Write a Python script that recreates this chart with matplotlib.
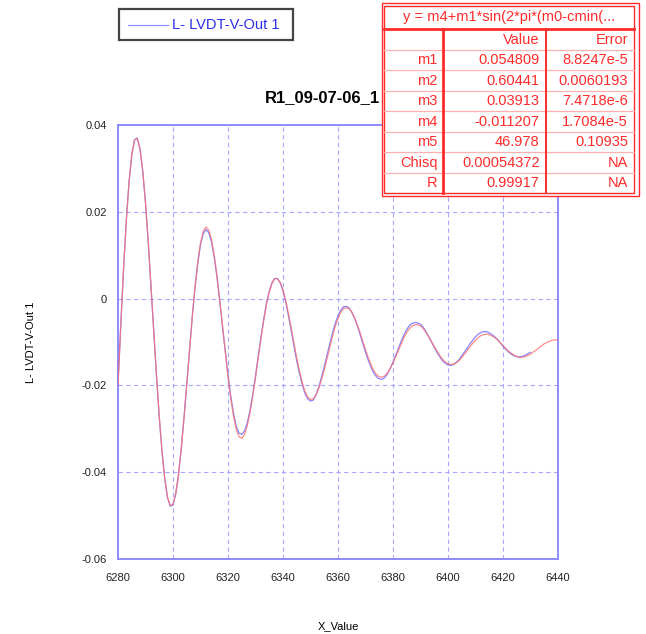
import numpy as np
import matplotlib
matplotlib.use("Agg")
from matplotlib import pyplot as plt
from matplotlib.patches import Rectangle
from matplotlib.lines import Line2D

plt.rcParams['font.family'] = ['Liberation Sans', 'DejaVu Sans']

# fitted curve (red), one value per x unit
x_fit = np.arange(6280, 6441, 1)
y_fit = [-0.0200, -0.0063, 0.0065, 0.0177, 0.0267, 0.0330, 0.0365, 0.0369,
         0.0344, 0.0294, 0.0221, 0.0131, 0.0030, -0.0074, -0.0177, -0.0271,
         -0.0351, -0.0414, -0.0457, -0.0476, -0.0474, -0.0449, -0.0406, -0.0346,
         -0.0276, -0.0198, -0.0119, -0.0043, 0.0026, 0.0084, 0.0128, 0.0155,
         0.0165, 0.0158, 0.0136, 0.0099, 0.0052, -0.0004, -0.0063, -0.0123,
         -0.0180, -0.0230, -0.0270, -0.0301, -0.0318, -0.0322, -0.0313, -0.0293,
         -0.0263, -0.0225, -0.0182, -0.0136, -0.0092, -0.0050, -0.0013, 0.0015,
         0.0035, 0.0046, 0.0046, 0.0037, 0.0020, -0.0005, -0.0035, -0.0068,
         -0.0103, -0.0137, -0.0167, -0.0193, -0.0214, -0.0227, -0.0232, -0.0231,
         -0.0222, -0.0207, -0.0187, -0.0164, -0.0138, -0.0112, -0.0087, -0.0064,
         -0.0046, -0.0032, -0.0023, -0.0021, -0.0023, -0.0031, -0.0044, -0.0060,
         -0.0078, -0.0098, -0.0118, -0.0136, -0.0152, -0.0166, -0.0175, -0.0180,
         -0.0181, -0.0178, -0.0171, -0.0161, -0.0148, -0.0134, -0.0119, -0.0104,
         -0.0090, -0.0078, -0.0069, -0.0063, -0.0060, -0.0060, -0.0063, -0.0069,
         -0.0078, -0.0088, -0.0099, -0.0110, -0.0121, -0.0131, -0.0140, -0.0146,
         -0.0150, -0.0152, -0.0151, -0.0148, -0.0143, -0.0136, -0.0128, -0.0120,
         -0.0111, -0.0103, -0.0096, -0.0090, -0.0085, -0.0083, -0.0082, -0.0083,
         -0.0086, -0.0090, -0.0095, -0.0102, -0.0108, -0.0115, -0.0121, -0.0126,
         -0.0130, -0.0133, -0.0135, -0.0135, -0.0134, -0.0131, -0.0128, -0.0123,
         -0.0119, -0.0114, -0.0109, -0.0104, -0.0101, -0.0098, -0.0096, -0.0095,
         -0.0095]

# measured data (blue)
x_data = np.arange(6280, 6431, 1)
y_data = [-0.0199, -0.0062, 0.0066, 0.0178, 0.0268, 0.0331, 0.0366, 0.0370,
          0.0345, 0.0294, 0.0220, 0.0130, 0.0028, -0.0076, -0.0179, -0.0273,
          -0.0353, -0.0416, -0.0459, -0.0478, -0.0476, -0.0450, -0.0406, -0.0345,
          -0.0274, -0.0196, -0.0117, -0.0042, 0.0025, 0.0081, 0.0124, 0.0150,
          0.0159, 0.0152, 0.0130, 0.0095, 0.0049, -0.0006, -0.0064, -0.0121,
          -0.0176, -0.0225, -0.0264, -0.0294, -0.0310, -0.0313, -0.0305, -0.0286,
          -0.0258, -0.0221, -0.0178, -0.0132, -0.0088, -0.0047, -0.0010, 0.0017,
          0.0037, 0.0047, 0.0046, 0.0036, 0.0018, -0.0008, -0.0040, -0.0074,
          -0.0110, -0.0144, -0.0173, -0.0198, -0.0219, -0.0231, -0.0236, -0.0234,
          -0.0222, -0.0204, -0.0181, -0.0157, -0.0130, -0.0104, -0.0079, -0.0057,
          -0.0039, -0.0027, -0.0019, -0.0018, -0.0021, -0.0031, -0.0045, -0.0062,
          -0.0082, -0.0103, -0.0123, -0.0142, -0.0158, -0.0172, -0.0180, -0.0185,
          -0.0186, -0.0182, -0.0173, -0.0161, -0.0146, -0.0130, -0.0114, -0.0098,
          -0.0083, -0.0071, -0.0062, -0.0057, -0.0055, -0.0056, -0.0059, -0.0066,
          -0.0076, -0.0088, -0.0100, -0.0112, -0.0124, -0.0134, -0.0143, -0.0149,
          -0.0153, -0.0154, -0.0152, -0.0147, -0.0141, -0.0132, -0.0123, -0.0114,
          -0.0104, -0.0096, -0.0088, -0.0082, -0.0078, -0.0076, -0.0076, -0.0079,
          -0.0083, -0.0088, -0.0094, -0.0102, -0.0110, -0.0117, -0.0123, -0.0128,
          -0.0132, -0.0134, -0.0135, -0.0133, -0.0131, -0.0127, -0.0124]

x_ticks = [6280, 6300, 6320, 6340, 6360, 6380, 6400, 6420, 6440]
y_ticks = [0.04, 0.02, 0.0, -0.02, -0.04, -0.06]
y_tick_labels = ['0.04', '0.02', '0', '-0.02', '-0.04', '-0.06']

series_name = 'L- LVDT-V-Out 1'
title = 'R1_09-07-06_1'
fit_formula = 'y = m4+m1*sin(2*pi*(m0-cmin(...'
param_names = ['m1', 'm2', 'm3', 'm4', 'm5', 'Chisq', 'R']
param_values = ['0.054809', '0.60441', '0.03913', '-0.011207', '46.978',
                '0.00054372', '0.99917']
param_errors = ['8.8247e-5', '0.0060193', '7.4718e-6', '1.7084e-5', '0.10935',
                'NA', 'NA']

W, H = 646, 634
fig = plt.figure(figsize=(W / 100, H / 100), dpi=100)


def fx(px):
    return px / W


def fy(py):
    return 1 - py / H


ax = fig.add_axes([fx(118), fy(559), 440 / W, 434 / H])
ax.plot(x_data, y_data, color='#6f6fff', lw=0.9, alpha=0.85, zorder=3)
ax.plot(x_fit, y_fit, color='#ff6f6f', lw=0.9, alpha=0.8, zorder=4)

ax.set_xlim(6280, 6440)
ax.set_ylim(-0.06, 0.04)
ax.set_xticks(x_ticks)
ax.set_xticklabels([str(t) for t in x_ticks])
ax.set_yticks(y_ticks)
ax.set_yticklabels(y_tick_labels)
ax.tick_params(length=0, labelsize=8, colors='#222222')
ax.tick_params(axis='x', pad=10)
ax.tick_params(axis='y', pad=8)
ax.grid(True, color='#a8a8ff', lw=0.8, ls=(0, (4, 3)))
for s in ax.spines.values():
    s.set_color('#8c8cff')
    s.set_linewidth(1.4)

fig.text(fx(338), fy(626), 'X_Value', ha='center', va='center', fontsize=8)
fig.text(fx(31), fy(342), series_name, ha='center', va='center',
         rotation=90, fontsize=8)
fig.text(fx(265), fy(98), title, ha='left', va='center', fontsize=12,
         fontweight='bold')

# legend box
fig.add_artist(Rectangle((fx(118.5), fy(40)), 174 / W, 31 / H,
                         transform=fig.transFigure, facecolor='white',
                         edgecolor='#444444', lw=1.6, zorder=10))
fig.add_artist(Line2D([fx(128), fx(168)], [fy(25), fy(25)],
                      transform=fig.transFigure, color='#8c8cff', lw=0.9,
                      zorder=11))
fig.text(fx(172), fy(25), series_name, ha='left', va='center',
         fontsize=10.5, color='#2b2bee', zorder=11)

# fit result table
red = '#ff2a2a'
pink = '#ffb0b0'
tl, tr = 384, 634
row_top = 29.3
row_h = 20.5
n_rows = len(param_names) + 1
t_bottom = row_top + n_rows * row_h
col1, col2 = 443.3, 545.7

fig.add_artist(Rectangle((fx(381.5), fy(t_bottom + 3)), (638.5 - 381.5) / W,
                         (t_bottom + 3 - 3.3) / H, transform=fig.transFigure,
                         facecolor='white', edgecolor=red, lw=1.0, zorder=20))
fig.add_artist(Rectangle((fx(tl), fy(t_bottom)), (tr - tl) / W,
                         (t_bottom - 6) / H, transform=fig.transFigure,
                         facecolor='white', edgecolor=red, lw=1.0, zorder=21))


def hline(y, color, lw):
    fig.add_artist(Line2D([fx(tl), fx(tr)], [fy(y), fy(y)],
                          transform=fig.transFigure, color=color, lw=lw,
                          zorder=22))


def vline(x, color, lw):
    fig.add_artist(Line2D([fx(x), fx(x)], [fy(row_top), fy(t_bottom)],
                          transform=fig.transFigure, color=color, lw=lw,
                          zorder=22))


hline(row_top, red, 2.0)
for i in range(1, n_rows):
    hline(row_top + i * row_h, pink, 0.9)
vline(col1, red, 2.0)
vline(col2, red, 1.4)

fs = 10.5
fig.text(fx((tl + tr) / 2), fy(17.5), fit_formula, ha='center', va='center',
         fontsize=fs, color=red, zorder=23)
hdr_y = row_top + row_h / 2
fig.text(fx(col2 - 6), fy(hdr_y), 'Value', ha='right', va='center',
         fontsize=fs, color=red, zorder=23)
fig.text(fx(tr - 6), fy(hdr_y), 'Error', ha='right', va='center',
         fontsize=fs, color=red, zorder=23)
for i, (nm, val, err) in enumerate(zip(param_names, param_values, param_errors)):
    yc = row_top + (i + 1.5) * row_h
    fig.text(fx(col1 - 6), fy(yc), nm, ha='right', va='center', fontsize=fs,
             color=red, zorder=23)
    fig.text(fx(col2 - 6), fy(yc), val, ha='right', va='center', fontsize=fs,
             color=red, zorder=23)
    fig.text(fx(tr - 6), fy(yc), err, ha='right', va='center', fontsize=fs,
             color=red, zorder=23)

fig.savefig('out.png', dpi=100)
